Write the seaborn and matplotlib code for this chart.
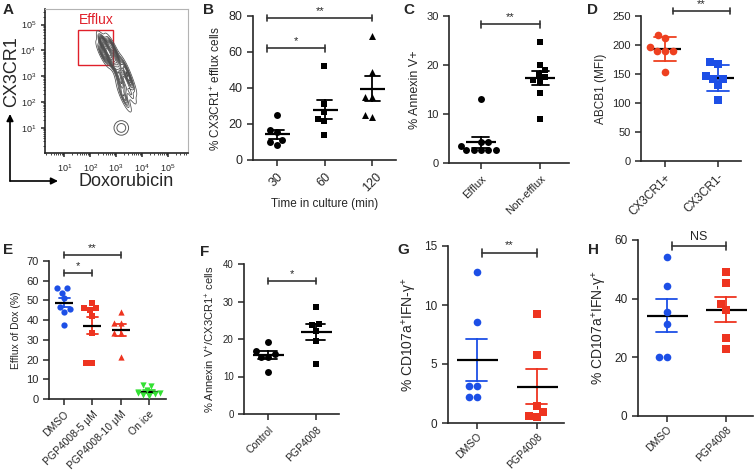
import numpy as np
import pandas as pd
import seaborn as sns
import matplotlib.pyplot as plt
from matplotlib.patches import Rectangle

# ---- data ----
# A: flow events, log10 units
flow_x = [2.7, 2.55, 2.85, 2.5, 2.9, 2.75, 3.05, 3.3, 3.1, 3.45, 3.2, 3.55, 3.25, 3.55, 3.35]
flow_y = [3.95, 4.15, 4.1, 3.85, 3.8, 3.7, 3.5, 3.4, 3.1, 3.0, 2.7, 2.7, 2.35, 2.35, 2.05]
flow_w = [14, 5, 5, 4, 5, 5, 4, 3, 3, 3, 3, 2, 2, 2, 2]
lone_x = [3.2]
lone_y = [1.0]
decades = [1, 2, 3, 4, 5]

# B
b_times = ['30', '60', '120']
b_30 = [25, 16.5, 15.5, 11, 10, 8.5]
b_60 = [52, 31, 26.5, 23, 21.5, 14]
b_120 = [69, 49, 35, 35, 24, 25]

# C
c_groups = ['Efflux', 'Non-efflux']
c_efflux = [13, 4.2, 4.2, 3.5, 2.6, 2.6, 2.6, 2.6, 2.6]
c_nonefflux = [24.7, 20.0, 19.0, 18.2, 17.5, 17.0, 16.5, 14.3, 9.0]

# D
d_groups = ['CX3CR1+', 'CX3CR1-']
d_pos = [218, 212, 196, 189, 189, 189, 154]
d_neg = [170, 167, 147, 141, 141, 131, 105]

# E
e_groups = ['DMSO', 'PGP4008-5 μM', 'PGP4008-10 μM', 'On ice']
e_dmso = [56.2, 56.2, 54, 51, 46.5, 45.5, 44, 37.5]
e_pgp5 = [48.8, 46, 46, 45, 42, 33.3, 18.2, 18.2]
e_pgp10 = [44.3, 38.7, 38.4, 33.7, 33.7, 21.5]
e_ice = [7.2, 6.8, 4.5, 3.8, 3.2, 2.8, 2.3, 2.0, 1.5]

# F
f_groups = ['Control', 'PGP4008']
f_ctrl = [19.3, 16.8, 15.9, 15.3, 15.3, 11.25]
f_pgp = [28.5, 23.9, 23.75, 22.2, 19.5, 13.3]

# G, H
gh_groups = ['DMSO', 'PGP4008']
g_dmso = [12.8, 8.56, 3.14, 3.14, 2.2, 2.2]
g_pgp = [9.2, 5.8, 1.44, 0.93, 0.62, 0.5]
h_dmso = [54.1, 44.4, 35.6, 31.25, 20, 20]
h_pgp = [49, 45.2, 38.2, 36.1, 26.5, 22.8]

BLUE = '#1d4fe6'
RED = '#ee3420'
GREEN = '#33e033'

sns.set_style('ticks')
plt.rcParams['font.family'] = ['Liberation Sans', 'DejaVu Sans']
plt.rcParams['mathtext.default'] = 'regular'
plt.rcParams['axes.linewidth'] = 1.2
plt.rcParams['xtick.major.width'] = 1.1
plt.rcParams['ytick.major.width'] = 1.1
plt.rcParams['xtick.major.size'] = 4
plt.rcParams['ytick.major.size'] = 4

W, H = 754, 471
fig = plt.figure(figsize=(W / 100, H / 100), dpi=100)


def add_ax(x0, y0, x1, y1):
    return fig.add_axes([x0 / W, 1 - y1 / H, (x1 - x0) / W, (y1 - y0) / H])


def letter(x, y, s):
    fig.text(x / W, 1 - y / H, s, fontsize=11, fontweight='bold', va='top', ha='left')


def dot_panel(ax, names, values, markers, colors, err_colors, mean_color,
              errorbar, size, mean_px, cap_px, spacing_px):
    df = pd.DataFrame({'g': np.repeat(names, [len(v) for v in values]),
                       'v': np.concatenate(values)})
    for name, m, c in zip(names, markers, colors):
        sns.swarmplot(data=df[df.g == name], x='g', y='v', order=names,
                      marker=m, color=c, size=size, linewidth=0, ax=ax)
    sns.pointplot(data=df, x='g', y='v', order=names, hue='g', hue_order=names,
                  palette=err_colors, errorbar=errorbar, capsize=cap_px / spacing_px,
                  marker='', linestyle='none', err_kws={'linewidth': 1.3},
                  legend=False, ax=ax)
    sns.pointplot(data=df, x='g', y='v', order=names, errorbar=None,
                  color=mean_color, marker='_', markersize=mean_px * 0.72,
                  markeredgewidth=1.6, linestyle='none', ax=ax)
    sns.despine(ax=ax)
    ax.set_xlabel('')


def bracket(ax, x1, x2, y, text, ymax, fs=8):
    t = 0.022 * ymax
    kw = dict(color='0.2', lw=1.2, clip_on=False)
    ax.plot([x1, x2], [y, y], **kw)
    ax.plot([x1, x1], [y - t, y + t], **kw)
    ax.plot([x2, x2], [y - t, y + t], **kw)
    ax.text((x1 + x2) / 2, y + 0.015 * ymax, text, ha='center', va='bottom', fontsize=fs)


def rot_ticks(ax, fs, ha='right'):
    for lab in ax.get_xticklabels():
        lab.set_rotation(45)
        lab.set_ha(ha)
        lab.set_rotation_mode('anchor' if ha == 'right' else 'default')
        lab.set_fontsize(fs)


# ---- A ----
ax = add_ax(45, 9, 188, 153)
sns.kdeplot(x=flow_x, y=flow_y, weights=flow_w, levels=18, bw_adjust=0.65,
            thresh=0.03, color='0.3', linewidths=0.55, ax=ax)
ax.scatter(lone_x * 2, lone_y * 2, s=[40, 110], facecolors='none',
           edgecolors='0.35', linewidths=0.7)
ax.add_patch(Rectangle((1.55, 3.42), 1.32, 1.36, fill=False, edgecolor='#e0202a', lw=1.0))
ax.text(1.55, 4.9, 'Efflux', color='#e0202a', fontsize=10, ha='left', va='bottom')
ax.set_xlim(0.26, 5.77)
ax.set_ylim(0.03, 5.6)
ticklabels = [f'10$^{{{d}}}$' for d in decades]
ax.set_xticks(decades, ticklabels, fontsize=6.5)
ax.set_yticks(decades, ticklabels, fontsize=6.5)
minor = [d + np.log10(k) for d in range(0, 6) for k in range(2, 10)]
ax.set_xticks([m for m in minor if 0.26 < m < 5.77], minor=True)
ax.set_yticks([m for m in minor if 0.03 < m < 5.6], minor=True)
ax.tick_params(which='major', length=3)
ax.tick_params(which='minor', length=1.5, width=0.6)
for side in ['top', 'right']:
    ax.spines[side].set_color('0.7')
    ax.spines[side].set_linewidth(0.8)
ax.set_xlabel('')
ax.set_ylabel('')
fig.text(12 / W, 1 - 72 / H, 'CX3CR1', rotation=90, fontsize=13, ha='center', va='center')
fig.text(126 / W, 1 - 181 / H, 'Doxorubicin', fontsize=13, ha='center', va='center')
ax.annotate('', xy=(10 / W, 1 - 114 / H), xytext=(10 / W, 1 - 181 / H),
            xycoords='figure fraction', textcoords='figure fraction',
            arrowprops=dict(arrowstyle='-|>', lw=1.2, color='black', shrinkA=0, shrinkB=0))
ax.annotate('', xy=(58 / W, 1 - 181 / H), xytext=(10 / W, 1 - 181 / H),
            xycoords='figure fraction', textcoords='figure fraction',
            arrowprops=dict(arrowstyle='-|>', lw=1.2, color='black', shrinkA=0, shrinkB=0))
letter(3, 3, 'A')

# ---- B ----
ax = add_ax(253, 16, 396, 160)
dot_panel(ax, b_times, [b_30, b_60, b_120], ['o', 's', '^'], ['black'] * 3,
          ['black'] * 3, 'black', 'se', 5, 25, 15, 48)
ax.set_xlim(-0.5, 2.5)
ax.set_ylim(0, 80)
ax.set_yticks([0, 20, 40, 60, 80])
ax.tick_params(axis='y', labelsize=9)
rot_ticks(ax, 9, ha='center')
ax.set_ylabel('% CX3CR1$^{+}$ efflux cells', fontsize=8.5)
ax.set_xlabel('Time in culture (min)', fontsize=8.5, labelpad=3)
bracket(ax, -0.2, 1, 62, '*', 80)
bracket(ax, -0.2, 2, 79, '**', 80)
letter(203, 3, 'B')

# ---- C ----
ax = add_ax(449, 16, 569, 163)
dot_panel(ax, c_groups, [c_efflux, c_nonefflux], ['o', 's'], ['black'] * 2,
          ['black'] * 2, 'black', 'se', 5, 30, 17, 59)
ax.set_xlim(-0.54, 1.49)
ax.set_ylim(0, 30)
ax.set_yticks([0, 10, 20, 30])
ax.tick_params(axis='y', labelsize=8)
rot_ticks(ax, 8)
ax.set_ylabel('% Annexin V+', fontsize=9)
bracket(ax, 0, 1, 28.3, '**', 30)
letter(403, 3, 'C')

# ---- D ----
ax = add_ax(641, 16, 741, 161)
dot_panel(ax, d_groups, [d_pos, d_neg], ['o', 's'], ['#ee4020', BLUE],
          ['#ee4020', BLUE], 'black', 'sd', 5.5, 32, 22, 53)
ax.set_xlim(-0.45, 1.43)
ax.set_ylim(0, 250)
ax.set_yticks([0, 50, 100, 150, 200, 250])
ax.tick_params(axis='y', labelsize=8)
rot_ticks(ax, 8.5)
ax.set_ylabel('ABCB1 (MFI)', fontsize=8.5)
bracket(ax, 0.15, 1.22, 259, '**', 250)
letter(587, 3, 'D')

# ---- E ----
ax = add_ax(49, 261, 166, 399)
dot_panel(ax, e_groups, [e_dmso, e_pgp5, e_pgp10, e_ice], ['o', 's', '^', 'v'],
          [BLUE, RED, RED, GREEN], [BLUE, RED, RED, GREEN], 'black', 'se',
          4.5, 18, 11, 28.3)
ax.set_xlim(-0.53, 3.6)
ax.set_ylim(0, 70)
ax.set_yticks(range(0, 71, 10))
ax.tick_params(axis='y', labelsize=8)
rot_ticks(ax, 7.5)
ax.set_ylabel('Efflux of Dox (%)', fontsize=7.5)
bracket(ax, 0, 1, 64, '*', 70)
bracket(ax, 0, 2, 73, '**', 70)
letter(3, 243, 'E')

# ---- F ----
ax = add_ax(244, 264, 339, 414)
dot_panel(ax, f_groups, [f_ctrl, f_pgp], ['o', 's'], ['black'] * 2,
          ['black'] * 2, 'black', 'se', 5, 31, 19, 48)
ax.set_xlim(-0.5, 1.48)
ax.set_ylim(0, 40)
ax.set_yticks([0, 10, 20, 30, 40])
ax.tick_params(axis='y', labelsize=7)
rot_ticks(ax, 7.5)
ax.set_ylabel('% Annexin V$^{+}$/CX3CR1$^{+}$ cells', fontsize=8)
bracket(ax, 0, 1, 35.5, '*', 40)
letter(200, 245, 'F')

# ---- G ----
ax = add_ax(448, 246, 564, 423)
dot_panel(ax, gh_groups, [g_dmso, g_pgp], ['o', 's'], [BLUE, RED],
          [BLUE, RED], 'black', 'se', 5.5, 41, 21, 60)
ax.set_xlim(-0.48, 1.45)
ax.set_ylim(0, 15)
ax.set_yticks([0, 5, 10, 15])
ax.tick_params(axis='y', labelsize=8.5)
ax.tick_params(axis='x', pad=2)
rot_ticks(ax, 7.5)
ax.set_ylabel('% CD107a$^{+}$IFN-γ$^{+}$', fontsize=10)
bracket(ax, 0.08, 1.0, 14.4, '**', 15)
letter(397, 243, 'G')

# ---- H ----
ax = add_ax(638, 240, 753, 416)
dot_panel(ax, gh_groups, [h_dmso, h_pgp], ['o', 's'], [BLUE, RED],
          [BLUE, RED], 'black', 'se', 5.5, 41, 21, 59)
ax.set_xlim(-0.49, 1.46)
ax.set_ylim(0, 60)
ax.set_yticks([0, 20, 40, 60])
ax.tick_params(axis='y', labelsize=8.5)
ax.tick_params(axis='x', pad=2)
rot_ticks(ax, 7.5)
ax.set_ylabel('% CD107a$^{+}$IFN-γ$^{+}$', fontsize=10)
bracket(ax, 0.08, 1.0, 58, 'NS', 60, fs=9)
letter(588, 243, 'H')

fig.savefig('out.png', dpi=100)
